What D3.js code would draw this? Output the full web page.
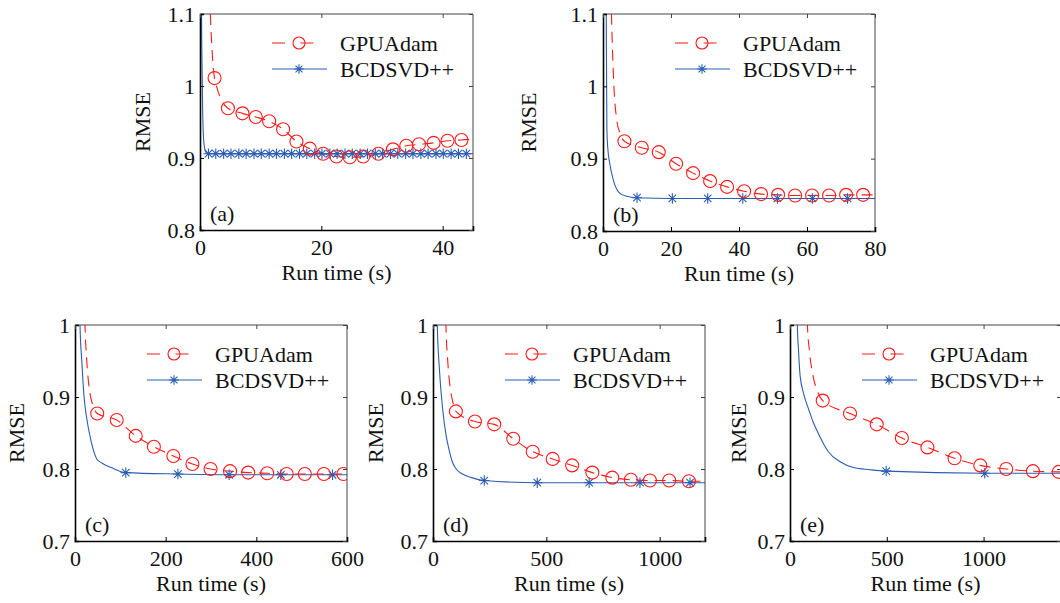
<!DOCTYPE html>
<html><head><meta charset="utf-8">
<script src="https://cdn.jsdelivr.net/npm/d3@7"></script>
<style>
body{margin:0;background:#fff}
svg{display:block}
text{font-family:"Liberation Serif","Times New Roman",serif;fill:#111}
</style>
</head><body>
<svg id="chart" width="1060" height="603"></svg>
<script>
// ---------- data ----------
const seriesNames = ["GPUAdam", "BCDSVD++"];
const panelLabels = ["(a)", "(b)", "(c)", "(d)", "(e)"];
const xDomains = [[0, 45], [0, 80], [0, 600], [0, 1200], [0, 1400]];
const yDomains = [[0.8, 1.1], [0.8, 1.1], [0.7, 1.0], [0.7, 1.0], [0.7, 1.0]];
const xTicks = [[0, 20, 40], [0, 20, 40, 60, 80], [0, 200, 400, 600], [0, 500, 1000], [0, 500, 1000]];
const yTicksTop = [0.8, 0.9, 1, 1.1];
const yTicksBottom = [0.7, 0.8, 0.9, 1];
const xTitle = "Run time (s)";
const yTitle = "RMSE";

// (a)
const adamHeadA_x = [1.3, 1.7];
const adamHeadA_y = [1.2, 1.1];
const adamA_x = [2.4, 4.6, 7.0, 9.2, 11.4, 13.7, 15.9, 18.1, 20.3, 22.5, 24.7, 26.9, 29.4, 31.8, 34.0, 36.1, 38.5, 40.8, 43.1];
const adamA_y = [1.011, 0.969, 0.962, 0.957, 0.951, 0.940, 0.923, 0.913, 0.906, 0.902, 0.901, 0.902, 0.906, 0.912, 0.917, 0.919, 0.921, 0.924, 0.925];
const adamTailA_x = [44.6];
const adamTailA_y = [0.926];
const bcdLineA_x = [0.15, 0.3, 0.45, 0.6, 0.8, 1.05];
const bcdLineA_y = [1.2, 1.05, 0.96, 0.925, 0.912, 0.907];
const bcdA_x = [1.4, 2.6, 3.9, 5.1, 6.4, 7.6, 8.9, 10.1, 11.4, 12.6, 13.9, 15.1, 16.4, 17.6, 18.9, 20.1, 21.4, 22.6, 23.9, 25.1, 26.4, 27.6, 28.9, 30.1, 31.4, 32.6, 33.9, 35.1, 36.4, 37.6, 38.9, 40.1, 41.4, 42.6, 43.9];
const bcdA_y = [0.906, 0.906, 0.906, 0.906, 0.906, 0.906, 0.906, 0.906, 0.906, 0.906, 0.906, 0.906, 0.906, 0.906, 0.906, 0.906, 0.906, 0.906, 0.906, 0.906, 0.906, 0.906, 0.906, 0.906, 0.906, 0.906, 0.906, 0.906, 0.906, 0.906, 0.906, 0.906, 0.906, 0.906, 0.906];
const bcdTailA_x = [45];
const bcdTailA_y = [0.906];

// (b)
const adamHeadB_x = [2.0, 2.6, 3.2, 4.0, 5.0];
const adamHeadB_y = [1.2, 1.08, 1.0, 0.955, 0.935];
const adamB_x = [6.3, 11.4, 16.4, 21.5, 26.5, 31.5, 36.5, 41.5, 46.5, 51.5, 56.5, 61.5, 66.5, 71.5, 76.5];
const adamB_y = [0.924, 0.915, 0.909, 0.893, 0.880, 0.869, 0.861, 0.855, 0.851, 0.850, 0.849, 0.849, 0.849, 0.850, 0.850];
const adamTailB_x = [80];
const adamTailB_y = [0.850];
const bcdLineB_x = [0.9, 1.0, 1.15, 1.4, 2.0, 3.0, 4.0, 5.0, 7.0];
const bcdLineB_y = [1.2, 1.05, 0.94, 0.915, 0.893, 0.871, 0.858, 0.852, 0.848];
const bcdB_x = [10.0, 20.4, 30.8, 41.1, 51.3, 61.6, 71.9];
const bcdB_y = [0.846, 0.845, 0.845, 0.845, 0.845, 0.845, 0.845];
const bcdTailB_x = [80];
const bcdTailB_y = [0.845];

// (c)
const adamHeadC_x = [19, 22, 26, 33, 40];
const adamHeadC_y = [1.08, 1.0, 0.95, 0.905, 0.888];
const adamC_x = [49, 92, 134, 174, 217, 259, 299, 342, 382, 424, 467, 507, 549, 592];
const adamC_y = [0.877, 0.868, 0.846, 0.831, 0.818, 0.807, 0.800, 0.797, 0.795, 0.794, 0.793, 0.793, 0.793, 0.793];
const adamTailC_x = [];
const adamTailC_y = [];
const bcdLineC_x = [9, 11, 15, 20, 25, 35, 48, 60, 80];
const bcdLineC_y = [1.08, 1.0, 0.95, 0.9, 0.874, 0.84, 0.814, 0.808, 0.802];
const bcdC_x = [112, 227, 340, 454, 568];
const bcdC_y = [0.795, 0.793, 0.792, 0.792, 0.792];
const bcdTailC_x = [600];
const bcdTailC_y = [0.792];

// (d)
const adamHeadD_x = [52, 57, 65, 75, 86];
const adamHeadD_y = [1.08, 1.0, 0.95, 0.915, 0.895];
const adamD_x = [101, 185, 270, 354, 440, 528, 614, 703, 791, 873, 957, 1042, 1129];
const adamD_y = [0.880, 0.866, 0.862, 0.842, 0.824, 0.814, 0.805, 0.795, 0.788, 0.785, 0.784, 0.784, 0.783];
const adamTailD_x = [1180];
const adamTailD_y = [0.783];
const bcdLineD_x = [15, 19, 28, 42, 57, 70, 85, 100, 130, 170];
const bcdLineD_y = [1.08, 1.0, 0.94, 0.885, 0.848, 0.828, 0.81, 0.801, 0.793, 0.788];
const bcdD_x = [226, 460, 689, 913, 1134];
const bcdD_y = [0.784, 0.781, 0.781, 0.781, 0.781];
const bcdTailD_x = [1200];
const bcdTailD_y = [0.781];

// (e)
const adamHeadE_x = [82, 90, 100, 120, 142];
const adamHeadE_y = [1.08, 1.0, 0.965, 0.928, 0.908];
const adamE_x = [169, 310, 448, 578, 710, 850, 983, 1117, 1255, 1388];
const adamE_y = [0.895, 0.877, 0.862, 0.843, 0.830, 0.815, 0.805, 0.800, 0.797, 0.796];
const adamTailE_x = [1400];
const adamTailE_y = [0.796];
const bcdLineE_x = [34, 38, 44, 52, 70, 95, 120, 147, 198, 259, 328, 414];
const bcdLineE_y = [1.08, 1.0, 0.965, 0.93, 0.905, 0.884, 0.865, 0.849, 0.824, 0.810, 0.802, 0.799];
const bcdE_x = [497, 1006];
const bcdE_y = [0.797, 0.794];
const bcdTailE_x = [1400];
const bcdTailE_y = [0.794];

// ---------- layout ----------
const frames = [
  {l: 200, r: 473, t: 14, b: 230, yl: 145},
  {l: 603, r: 875, t: 14, b: 231, yl: 531},
  {l: 75,  r: 347, t: 325, b: 541, yl: 19},
  {l: 433, r: 705, t: 325, b: 541, yl: 378},
  {l: 790, r: 1061, t: 325, b: 541, yl: 741}
];
const RED = "#ff1a1a", BLUE = "#2a5db3";

const zip = (xs, ys) => xs.map((x, i) => [x, ys[i]]);
const panelData = [
  {head: zip(adamHeadA_x, adamHeadA_y), adam: zip(adamA_x, adamA_y), adamTail: zip(adamTailA_x, adamTailA_y),
   bcdHead: zip(bcdLineA_x, bcdLineA_y), bcd: zip(bcdA_x, bcdA_y), bcdTail: zip(bcdTailA_x, bcdTailA_y)},
  {head: zip(adamHeadB_x, adamHeadB_y), adam: zip(adamB_x, adamB_y), adamTail: zip(adamTailB_x, adamTailB_y),
   bcdHead: zip(bcdLineB_x, bcdLineB_y), bcd: zip(bcdB_x, bcdB_y), bcdTail: zip(bcdTailB_x, bcdTailB_y)},
  {head: zip(adamHeadC_x, adamHeadC_y), adam: zip(adamC_x, adamC_y), adamTail: zip(adamTailC_x, adamTailC_y),
   bcdHead: zip(bcdLineC_x, bcdLineC_y), bcd: zip(bcdC_x, bcdC_y), bcdTail: zip(bcdTailC_x, bcdTailC_y)},
  {head: zip(adamHeadD_x, adamHeadD_y), adam: zip(adamD_x, adamD_y), adamTail: zip(adamTailD_x, adamTailD_y),
   bcdHead: zip(bcdLineD_x, bcdLineD_y), bcd: zip(bcdD_x, bcdD_y), bcdTail: zip(bcdTailD_x, bcdTailD_y)},
  {head: zip(adamHeadE_x, adamHeadE_y), adam: zip(adamE_x, adamE_y), adamTail: zip(adamTailE_x, adamTailE_y),
   bcdHead: zip(bcdLineE_x, bcdLineE_y), bcd: zip(bcdE_x, bcdE_y), bcdTail: zip(bcdTailE_x, bcdTailE_y)}
];

const svg = d3.select("#chart");
const FS = 22;

function starPath(r) {
  const d = r * 0.72;
  return `M${-r},0H${r}M0,${-r}V${r}M${-d},${-d}L${d},${d}M${-d},${d}L${d},${-d}`;
}

frames.forEach((f, i) => {
  const x = d3.scaleLinear().domain(xDomains[i]).range([f.l, f.r]);
  const y = d3.scaleLinear().domain(yDomains[i]).range([f.b, f.t]);
  const g = svg.append("g");
  const clipId = "clip" + i;
  svg.append("clipPath").attr("id", clipId).append("rect")
    .attr("x", f.l).attr("y", f.t).attr("width", f.r - f.l).attr("height", f.b - f.t);

  const pd = panelData[i];
  const line = d3.line().x(d => x(d[0])).y(d => y(d[1])).curve(d3.curveMonotoneX);
  const plot = g.append("g").attr("clip-path", `url(#${clipId})`);

  // BCDSVD++ line
  plot.append("path").datum(pd.bcdHead.concat(pd.bcd, pd.bcdTail))
    .attr("d", line).attr("fill", "none").attr("stroke", BLUE).attr("stroke-width", 1.1);
  // GPUAdam line
  plot.append("path").datum(pd.head.concat(pd.adam, pd.adamTail))
    .attr("d", line).attr("fill", "none").attr("stroke", RED).attr("stroke-width", 1.1)
    .attr("stroke-dasharray", "11,7");
  // markers
  plot.selectAll(".st").data(pd.bcd).enter().append("path")
    .attr("transform", d => `translate(${x(d[0])},${y(d[1])})`)
    .attr("d", starPath(5.2)).attr("fill", "none").attr("stroke", BLUE).attr("stroke-width", 1.1);
  plot.selectAll(".ci").data(pd.adam).enter().append("circle")
    .attr("cx", d => x(d[0])).attr("cy", d => y(d[1])).attr("r", 6.5)
    .attr("fill", "none").attr("stroke", RED).attr("stroke-width", 1.1);

  // frame
  const yt = i < 2 ? yTicksTop : yTicksBottom;
  g.append("line").attr("x1", f.l).attr("x2", f.r).attr("y1", f.t).attr("y2", f.t).attr("stroke", "#444").attr("stroke-width", 1);
  g.append("line").attr("x1", f.r).attr("x2", f.r).attr("y1", f.t).attr("y2", f.b).attr("stroke", "#444").attr("stroke-width", 1);

  // axes
  const xAxis = d3.axisBottom(x).tickValues(xTicks[i]).tickSize(-4).tickPadding(9).tickFormat(d => String(d));
  const yAxis = d3.axisLeft(y).tickValues(yt).tickSize(-4).tickPadding(5).tickFormat(d => String(+d.toFixed(2)));
  const gx = g.append("g").attr("transform", `translate(0,${f.b})`).call(xAxis);
  const gy = g.append("g").attr("transform", `translate(${f.l},0)`).call(yAxis);
  // mirrored ticks
  const gx2 = g.append("g").attr("transform", `translate(0,${f.t})`).call(d3.axisTop(x).tickValues(xTicks[i]).tickSize(-4).tickFormat(""));
  const gy2 = g.append("g").attr("transform", `translate(${f.r},0)`).call(d3.axisRight(y).tickValues(yt).tickSize(-4).tickFormat(""));
  [gx2, gy2].forEach(a => { a.select(".domain").remove(); a.selectAll("line").attr("stroke", "#444"); });
  [gx, gy].forEach(a => {
    a.select(".domain").attr("stroke", "#000").attr("stroke-width", 1.6);
    a.selectAll("line").attr("stroke", "#000");
    a.selectAll("text").attr("font-size", FS).attr("font-family", "Liberation Serif").attr("fill", "#111");
  });
  gx.selectAll("text").attr("dy", "0.72em");

  // titles
  g.append("text").attr("x", (f.l + f.r) / 2).attr("y", f.b + 50)
    .attr("text-anchor", "middle").attr("font-size", FS).text(xTitle);
  g.append("text").attr("transform", `translate(${f.yl},${(f.t + f.b) / 2}) rotate(-90)`)
    .attr("text-anchor", "middle").attr("dominant-baseline", "middle").attr("font-size", FS).text(yTitle);
  g.append("text").attr("x", f.l + 10).attr("y", f.b - 9).attr("font-size", FS).text(panelLabels[i]);

  // legend
  const lg = g.append("g");
  const rows = [f.t + 29, f.t + 55];
  lg.append("line").attr("x1", f.l + 72).attr("x2", f.l + 127).attr("y1", rows[0]).attr("y2", rows[0])
    .attr("stroke", RED).attr("stroke-width", 1.1).attr("stroke-dasharray", "13,15.5");
  lg.append("circle").attr("cx", f.l + 99).attr("cy", rows[0]).attr("r", 6).attr("fill", "none").attr("stroke", RED).attr("stroke-width", 1.1);
  lg.append("line").attr("x1", f.l + 72).attr("x2", f.l + 127).attr("y1", rows[1]).attr("y2", rows[1])
    .attr("stroke", BLUE).attr("stroke-width", 1.1);
  lg.append("path").attr("transform", `translate(${f.l + 99},${rows[1]})`).attr("d", starPath(4.8))
    .attr("fill", "none").attr("stroke", BLUE).attr("stroke-width", 1.1);
  seriesNames.forEach((n, k) => {
    lg.append("text").attr("x", f.l + 140).attr("y", rows[k]).attr("dominant-baseline", "central")
      .attr("font-size", FS).text(n);
  });
});
</script>
</body></html>
